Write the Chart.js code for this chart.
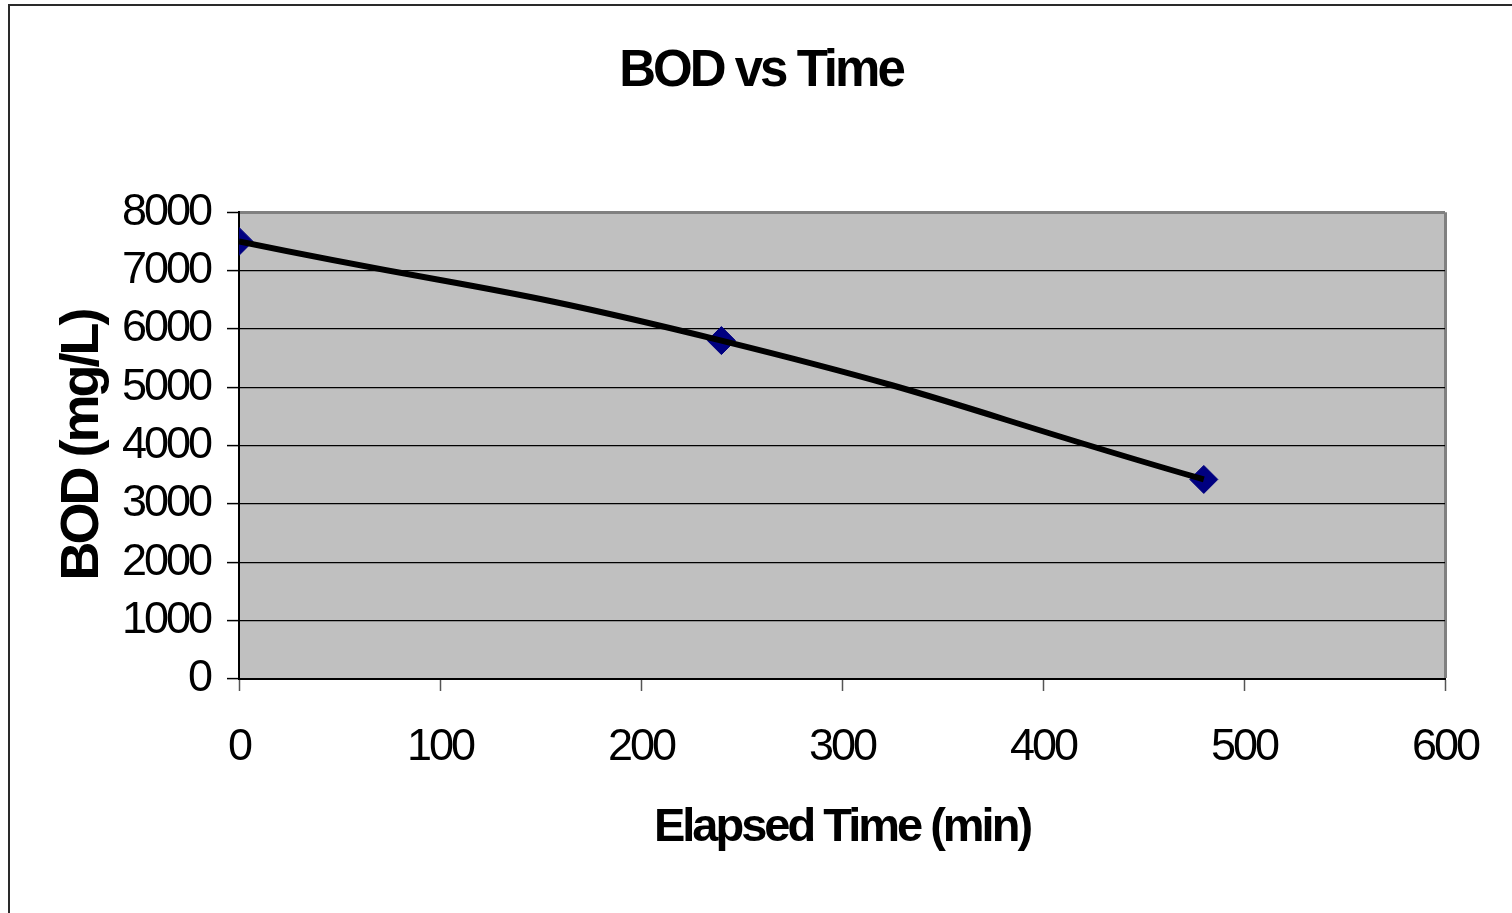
<!DOCTYPE html>
<html>
<head>
<meta charset="utf-8">
<title>BOD vs Time</title>
<script src="https://cdn.jsdelivr.net/npm/chart.js@4/dist/chart.umd.min.js"></script>
<style>
  html, body { margin: 0; padding: 0; background: #fff; overflow: hidden; }
  #wrap { position: relative; width: 1512px; height: 913px; }
  #frame {
    position: absolute; left: 8px; top: 4px; width: 1600px; height: 1000px;
    border-left: 2px solid #2a2a2a; border-top: 2px solid #2a2a2a;
  }
  #chart { position: absolute; left: 0; top: 0; }
</style>
</head>
<body>
<div id="wrap">
  <div id="frame"></div>
  <canvas id="chart" width="1512" height="913"></canvas>
</div>
<script>
(function(){
    // data
    const timeMin = [0, 240, 480];
    const bodMgL = [7500, 5800, 3420];

    const xTicks = [0, 100, 200, 300, 400, 500, 600];
    const yTicks = [0, 1000, 2000, 3000, 4000, 5000, 6000, 7000, 8000];

    const points = timeMin.map((t, i) => ({x: t, y: bodMgL[i]}));
    const FONT = "'Liberation Sans', Arial, sans-serif";

    // excel-ish look: grey plot area, condensed text
    const excelLook = {
      id: 'excelLook',
      beforeUpdate(chart) { chart.ctx.letterSpacing = '-3px'; },
      beforeDraw(chart) {
        const {ctx, chartArea: a} = chart;
        ctx.letterSpacing = '-3px';
        ctx.save();
        ctx.fillStyle = '#c0c0c0';
        ctx.fillRect(a.left, a.top, a.right - a.left, a.bottom - a.top);
        ctx.restore();
      }
    };

    new Chart(document.getElementById('chart'), {
      type: 'scatter',
      data: {
        datasets: [{
          label: 'BOD curve',
          data: points,
          showLine: true,
          borderColor: '#000',
          borderWidth: 6,
          tension: 0.5,
          pointRadius: 0,
          pointHoverRadius: 0,
          order: 0
        }, {
          label: 'BOD',
          data: points,
          showLine: false,
          pointStyle: 'rectRot',
          pointRadius: 14,
          pointHoverRadius: 14,
          backgroundColor: '#000080',
          borderColor: '#000080',
          borderWidth: 1,
          order: 1
        }]
      },
      options: {
        responsive: false,
        animation: false,
        devicePixelRatio: 1,
        layout: { padding: { left: 10, right: 0, top: 0, bottom: 0 } },
        plugins: {
          legend: { display: false },
          tooltip: { enabled: false },
          title: {
            display: true,
            text: 'BOD vs Time',
            color: '#000',
            font: { family: FONT, size: 51, weight: 'bold' },
            padding: { top: 41, bottom: 110 }
          }
        },
        scales: {
          x: {
            type: 'linear',
            min: 0, max: 600,
            afterBuildTicks: s => { s.ticks = xTicks.map(v => ({value: v})); },
            afterFit: s => { s.height = 234; s.paddingRight = 67; },
            ticks: {
              color: '#000', padding: 30,
              font: { family: FONT, size: 45 },
              callback: v => String(v)
            },
            grid: {
              drawOnChartArea: true,
              color: c => (c.tick && c.tick.value === 600) ? '#808080' : 'rgba(0,0,0,0)',
              lineWidth: c => (c.tick && c.tick.value === 600) ? 3 : 1,
              tickColor: '#555',
              tickLength: 12,
              tickWidth: 1.5
            },
            border: { display: true, color: '#000', width: 2 },
            title: {
              display: true,
              text: 'Elapsed Time (min)',
              color: '#000',
              font: { family: FONT, size: 47, weight: 'bold' },
              padding: { top: 0, bottom: 57 }
            }
          },
          y: {
            type: 'linear',
            min: 0, max: 8000,
            afterBuildTicks: s => { s.ticks = yTicks.map(v => ({value: v})); },
            afterFit: s => { s.width = 229; },
            ticks: {
              color: '#000', padding: 17,
              font: { family: FONT, size: 45 },
              callback: v => String(v)
            },
            grid: {
              color: c => (c.tick && c.tick.value === 8000) ? '#808080' : '#000',
              lineWidth: c => (c.tick && c.tick.value === 8000) ? 3 : 1.2,
              tickColor: '#000',
              tickLength: 12,
              tickWidth: 1.5
            },
            border: { display: true, color: '#000', width: 2 },
            title: {
              display: true,
              text: 'BOD (mg/L)',
              color: '#000',
              font: { family: FONT, size: 54, weight: 'bold' },
              padding: { top: 41, bottom: 0 }
            }
          }
        }
      },
      plugins: [excelLook]
    });
})()
</script>
</body>
</html>
